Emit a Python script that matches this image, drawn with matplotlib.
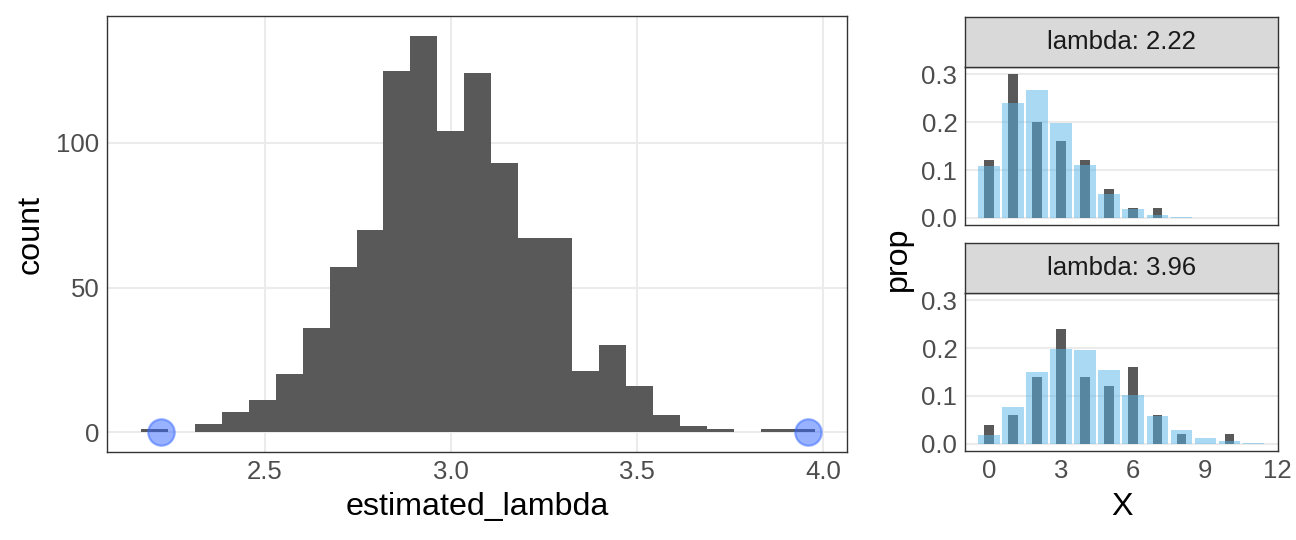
import numpy as np
import matplotlib
matplotlib.use("Agg")
import matplotlib.pyplot as plt

# ---------------- data ----------------
bin_start = 2.166
bin_width = 0.0725
hist_counts = [1, 0, 3, 7, 11, 20, 36, 57, 70, 125, 137, 104, 124, 93, 67, 67,
               21, 30, 16, 6, 2, 1, 0, 1, 1]
lambdas = [2.22, 3.96]

x_top = [0, 1, 2, 3, 4, 5, 6, 7]
obs_top = [0.12, 0.30, 0.20, 0.16, 0.12, 0.06, 0.02, 0.02]
xp_top = [0, 1, 2, 3, 4, 5, 6, 7, 8]
pois_top = [0.109, 0.241, 0.268, 0.198, 0.110, 0.049, 0.018, 0.006, 0.002]

x_bot = [0, 1, 2, 3, 4, 5, 6, 7, 8, 10]
obs_bot = [0.04, 0.06, 0.14, 0.24, 0.14, 0.12, 0.16, 0.06, 0.02, 0.02]
xp_bot = [0, 1, 2, 3, 4, 5, 6, 7, 8, 9, 10, 11]
pois_bot = [0.019, 0.076, 0.150, 0.197, 0.195, 0.155, 0.102, 0.058, 0.029,
            0.013, 0.005, 0.002]

hist_xticks = [2.5, 3.0, 3.5, 4.0]
hist_xticklabels = ["2.5", "3.0", "3.5", "4.0"]
hist_yticks = [0, 50, 100]
facet_yticks = [0.0, 0.1, 0.2, 0.3]
facet_yticklabels = ["0.0", "0.1", "0.2", "0.3"]
facet_xticks = [0, 3, 6, 9, 12]
strip_labels = ["lambda: 2.22", "lambda: 3.96"]

# ---------------- style ----------------
plt.rcParams['font.family'] = ['Liberation Sans', 'DejaVu Sans']
W, H = 1296, 540
fig = plt.figure(figsize=(W / 100, H / 100), dpi=100)

GRID = "#EBEBEB"
BORDER = "#333333"
TICKC = "#4D4D4D"
DARK = "#595959"
LIGHT = "#56B4E9"
TICK_FS = 18.5
TITLE_FS = 23.2


def px_axes(x0, y0, x1, y1):
    return fig.add_axes([x0 / W, 1 - y1 / H, (x1 - x0) / W, (y1 - y0) / H])


def style(ax, xgrid=True):
    for s in ax.spines.values():
        s.set_color(BORDER)
        s.set_linewidth(1.0)
    ax.tick_params(colors=BORDER, labelcolor=TICKC, labelsize=TICK_FS,
                   length=0, width=1.0, pad=5.5)
    ax.set_axisbelow(True)
    ax.grid(True, axis='y', color=GRID, linewidth=1.5)
    if xgrid:
        ax.grid(True, axis='x', color=GRID, linewidth=1.5)


# ---------------- left histogram ----------------
ax = px_axes(107, 16, 847, 452)
style(ax)
edges = bin_start + bin_width * np.arange(len(hist_counts) + 1)
ax.stairs(hist_counts, edges, fill=True, color=DARK, zorder=2)
ax.plot(lambdas, [0, 0], 'o', ms=19, mfc=(0.2, 0.4, 1.0, 0.5),
        mec=(0.2, 0.4, 1.0, 0.5), mew=1.6, zorder=3, linestyle='none')
ax.set_xlim(2.075, 4.065)
ax.set_ylim(-6.85, 143.85)
ax.set_xticks(hist_xticks)
ax.set_xticklabels(hist_xticklabels)
ax.set_yticks(hist_yticks)

# ---------------- facets ----------------
panels = [
    (67.3, 225, 17.3, x_top, obs_top, xp_top, pois_top, strip_labels[0], False),
    (293, 451, 243, x_bot, obs_bot, xp_bot, pois_bot, strip_labels[1], True),
]
for (py0, py1, sy0, xo, yo, xp, yp, lab, showx) in panels:
    a = px_axes(965, py0, 1278, py1)
    style(a, xgrid=False)
    a.bar(xo, yo, width=0.4, color=DARK, zorder=2)
    a.bar(xp, yp, width=0.9, color=LIGHT, alpha=0.5, zorder=3)
    a.set_xlim(-1.0, 12.02)
    a.set_ylim(-0.015, 0.315)
    a.set_yticks(facet_yticks)
    a.set_yticklabels(facet_yticklabels)
    a.set_xticks(facet_xticks)
    if not showx:
        a.tick_params(axis='x', length=0, labelbottom=False)
    s = px_axes(965, sy0, 1278, py0)
    s.set_facecolor("#D9D9D9")
    for sp in s.spines.values():
        sp.set_color(BORDER)
        sp.set_linewidth(1.0)
    s.set_xticks([])
    s.set_yticks([])
    s.text(0.5, 0.5, lab, ha='center', va='center', fontsize=TICK_FS,
           color="#1A1A1A", transform=s.transAxes)

# ---------------- axis titles ----------------
fig.text(477 / W, 1 - 507 / H, "estimated_lambda", ha='center', va='center',
         fontsize=TITLE_FS, color='black')
fig.text(31 / W, 1 - 234 / H, "count", ha='center', va='center',
         rotation=90, fontsize=TITLE_FS, color='black')
fig.text(1122 / W, 1 - 507 / H, "X", ha='center', va='center',
         fontsize=TITLE_FS, color='black')
fig.text(898 / W, 1 - 259 / H, "prop", ha='center', va='center',
         rotation=90, fontsize=TITLE_FS, color='black')

fig.savefig("out.png", dpi=100)
